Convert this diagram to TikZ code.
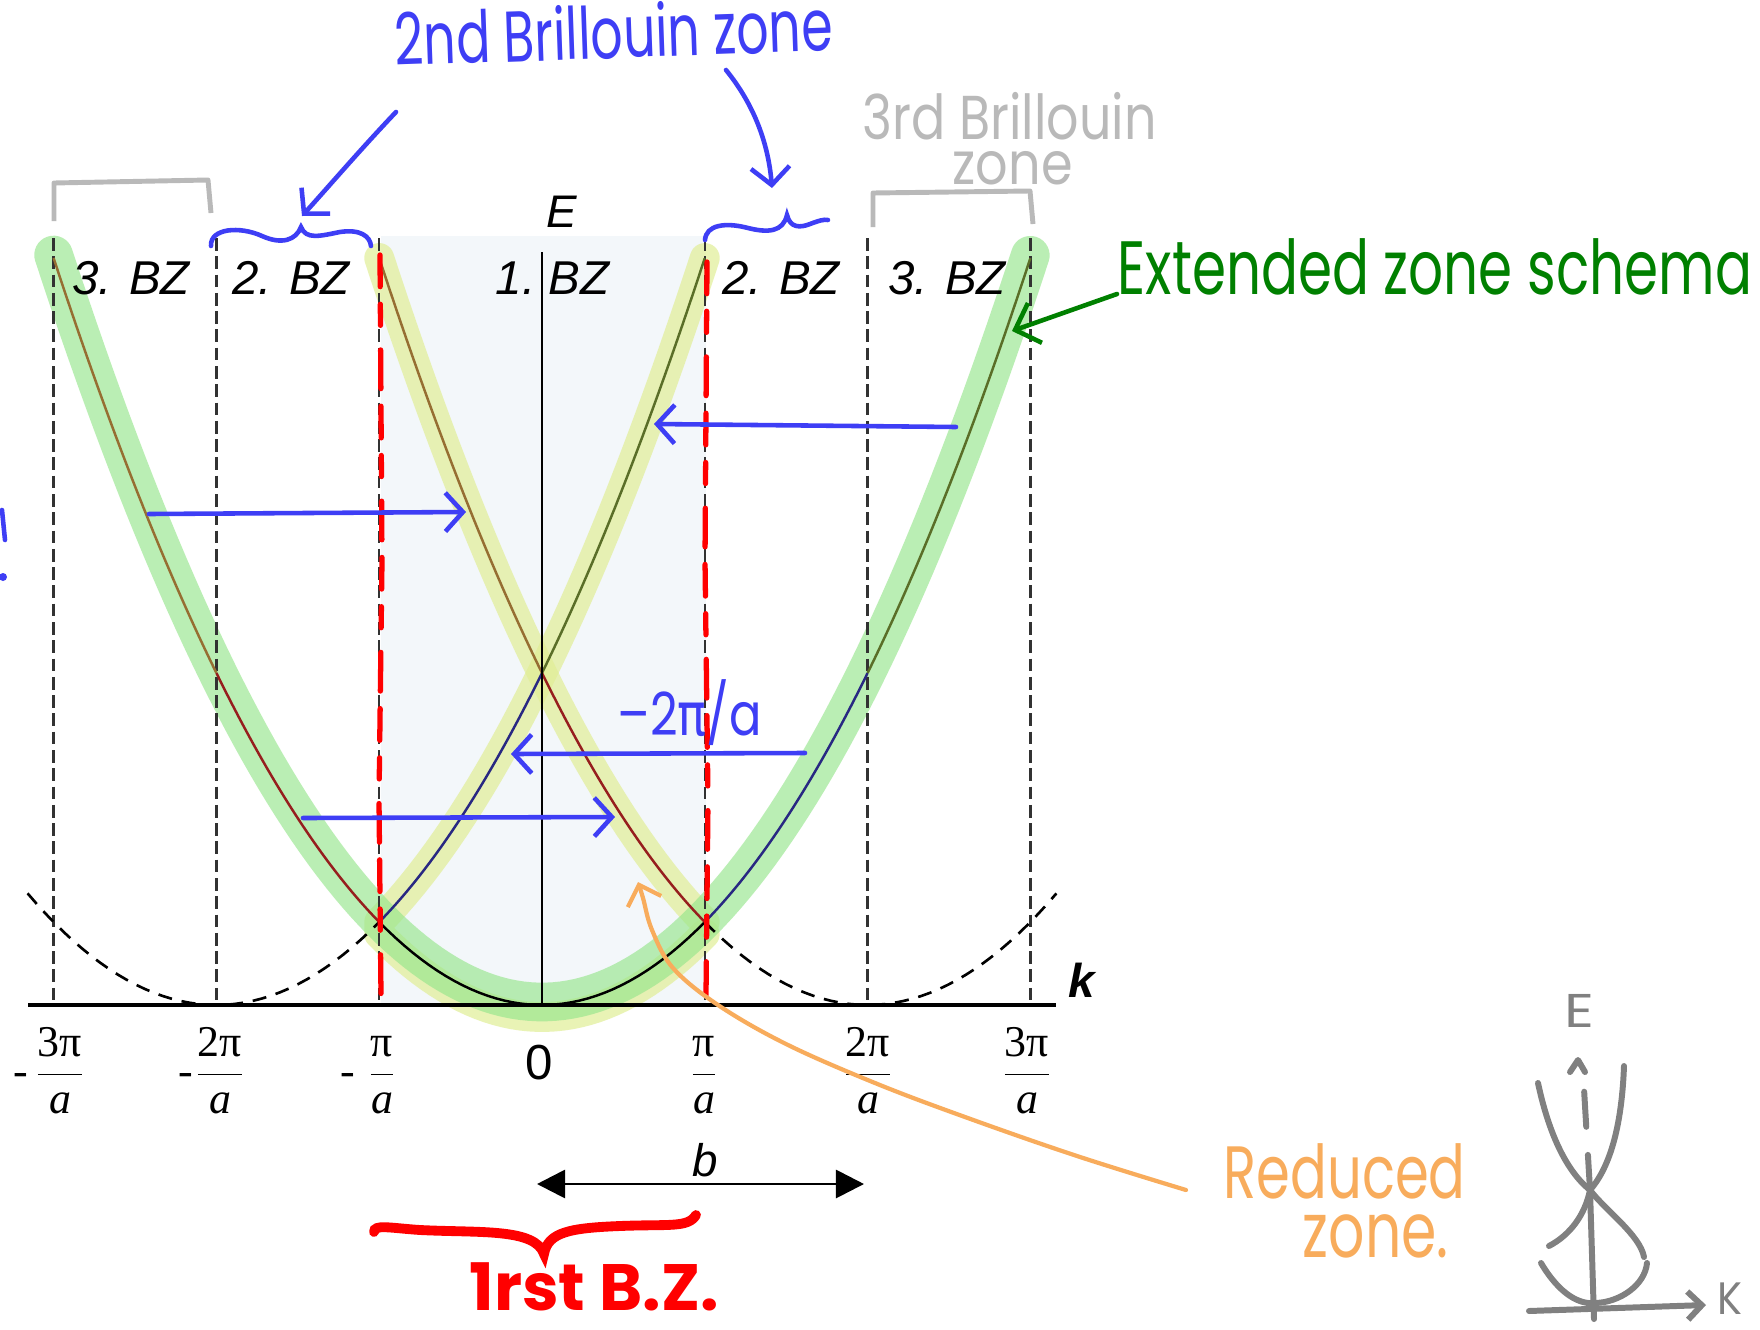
\documentclass[tikz,border=0pt]{standalone}
\usepackage{fontspec}
\setmainfont{Liberation Serif}
\newfontfamily\arialf{Liberation Sans}
\newfontfamily\handf{Poppins}
\newfontfamily\greekf{DejaVu Sans}
\usetikzlibrary{arrows.meta}
\definecolor{hblue}{RGB}{62,62,245}
\definecolor{hgreen}{RGB}{0,128,0}
\definecolor{hgray}{RGB}{185,185,185}
\definecolor{sgray}{RGB}{128,128,128}
\definecolor{horange}{RGB}{248,172,92}
\definecolor{hred}{RGB}{255,0,0}
\definecolor{bzbg}{RGB}{243,247,250}
\definecolor{bandgreen}{RGB}{150,230,140}
\definecolor{bandyellow}{RGB}{225,238,150}
\definecolor{cred}{RGB}{150,30,30}
\definecolor{cblue}{RGB}{40,40,130}
\definecolor{cbrown}{RGB}{150,110,50}
\definecolor{colive}{RGB}{90,110,40}
\definecolor{dashgray}{RGB}{50,50,50}
\newcommand\kfrac[1]{$\displaystyle\frac{\mbox{#1}}{\mbox{\itshape a}}$}
\tikzset{
  vdash/.style={dashgray, line width=0.7pt, dash pattern=on 3.6pt off 1.6pt},
  pdash/.style={black, line width=0.75pt, dash pattern=on 4pt off 2.8pt},
  curve/.style={line width=0.7pt},
  band/.style={line cap=round, line join=round},
  bzlabel/.style={font=\arialf\itshape\fontsize{13.5}{16}\selectfont, inner sep=0},
  ticklab/.style={font=\fontsize{12.5}{15}\selectfont, inner sep=0, anchor=base},
  harrow/.style={hblue, line width=1.3pt, line cap=round, -{Straight Barb[length=5pt,width=11pt]}},
  hwtext/.style={inner sep=0, anchor=base west},
  redline/.style={hred, line width=1.5pt, line cap=round, dash pattern=on 9pt off 5pt on 6pt off 7pt on 11pt off 5pt},
  sketch/.style={sgray, line width=1.7pt, line cap=round, line join=round},
}
\begin{document}
\begin{tikzpicture}[x=0.01cm,y=-0.01cm]
\useasboundingbox (0,0) rectangle (1760,1330);
\fill[white] (0,0) rectangle (1760,1330);
% first BZ background
\fill[bzbg] (381,236) rectangle (706,1005);
% highlight bands
\draw[band, bandyellow, opacity=0.7, line width=8.5pt]
  plot[domain=1:-1, samples=40] ({542+162.8*\x},{1005-83*(\x+2)*(\x+2)})
  -- plot[domain=-1:1, samples=40] ({542+162.8*\x},{1017-83*\x*\x});
\draw[band, bandyellow, opacity=0.7, line width=8.5pt]
  plot[domain=-1:1, samples=40] ({542+162.8*\x},{1005-83*(\x-2)*(\x-2)});
\draw[band, bandgreen, opacity=0.65, line width=11pt]
  plot[domain=-3:3, samples=120] ({542+162.8*\x},{1002-83*\x*\x});
% vertical dashed lines
\foreach \k in {-3,-2,-1,1,2,3} \draw[vdash] ({542+162.8*\k},238) -- ({542+162.8*\k},1005);
% dashed parabolas
\draw[pdash] plot[domain=-3.16:-1, samples=40] ({542+162.8*\x},{1005-83*(\x+2)*(\x+2)});
\draw[pdash] plot[domain=1:3.16, samples=40] ({542+162.8*\x},{1005-83*(\x-2)*(\x-2)});
% band structure curves
\draw[curve, black] plot[domain=-1:1, samples=40] ({542+162.8*\x},{1005-83*\x*\x});
\draw[curve, cred] plot[domain=-2:-1, samples=30] ({542+162.8*\x},{1005-83*\x*\x});
\draw[curve, cblue] plot[domain=1:2, samples=30] ({542+162.8*\x},{1005-83*\x*\x});
\draw[curve, cbrown] plot[domain=-3:-2, samples=30] ({542+162.8*\x},{1005-83*\x*\x});
\draw[curve, colive] plot[domain=2:3, samples=30] ({542+162.8*\x},{1005-83*\x*\x});
\draw[curve, cblue] plot[domain=-1:0, samples=30] ({542+162.8*\x},{1005-83*(\x+2)*(\x+2)});
\draw[curve, colive] plot[domain=0:1, samples=30] ({542+162.8*\x},{1005-83*(\x+2)*(\x+2)});
\draw[curve, cbrown] plot[domain=-1:0, samples=30] ({542+162.8*\x},{1005-83*(\x-2)*(\x-2)});
\draw[curve, cred] plot[domain=0:1, samples=30] ({542+162.8*\x},{1005-83*(\x-2)*(\x-2)});
% axes
\coordinate (axL) at (28,1005); \coordinate (axR) at (1056,1005);
\coordinate (eaxB) at (542,1005); \coordinate (eaxT) at (542,252);
\draw[line width=0.9pt] (axL) -- (axR);
\draw[line width=0.45pt] (eaxB) -- (eaxT);
% axis labels
\node[font=\arialf\itshape\fontsize{13}{15}\selectfont, inner sep=0] (lE) at (562,212) {E};
\node[font=\arialf\itshape\bfseries\fontsize{13.5}{15}\selectfont, inner sep=0] (lk) at (1082,980) {k};
\node[font=\arialf\fontsize{14}{16}\selectfont, inner sep=0] (l0) at (539,1063) {0};
% zone labels
\node[bzlabel] (z3l) at (131,278) {3. BZ};
\node[bzlabel] (z2l) at (291,278) {2. BZ};
\node[bzlabel, anchor=east] (z1a) at (536,278) {1.};
\node[bzlabel, anchor=west] (z1b) at (548,278) {BZ};
\node[bzlabel] (z2r) at (781,278) {2. BZ};
\node[bzlabel] (z3r) at (947,278) {3. BZ};
% tick labels
\node[ticklab] (m3) at (21,1085) {-};
\node[ticklab] (t3l) at (60,1085) {\kfrac{3π}};
\node[ticklab] (m2) at (186,1085) {-};
\node[ticklab] (t2l) at (220,1085) {\kfrac{2π}};
\node[ticklab] (m1) at (348,1085) {-};
\node[ticklab] (t1l) at (382,1085) {\kfrac{π}};
\node[ticklab] (t1r) at (704,1085) {\kfrac{π}};
\node[ticklab] (t2r) at (868,1085) {\kfrac{2π}};
\node[ticklab] (t3r) at (1027,1085) {\kfrac{3π}};
% b arrow
\node[font=\arialf\itshape\fontsize{13}{15}\selectfont, inner sep=0] (lb) at (705,1160) {b};
\coordinate (bL) at (537,1184); \coordinate (bR) at (864,1184);
\draw[line width=0.8pt, {Triangle[length=8pt,width=8pt]}-{Triangle[length=8pt,width=8pt]}] (bL) -- (bR);
% red dashed zone boundaries
\draw[redline] (380,255) -- (382,560) -- (379,800) -- (381,995);
\draw[redline] (707,262) -- (705,560) -- (708,800) -- (706,995);
% gray brackets (3rd BZ)
\draw[hgray, line width=1.4pt, line join=round] (54,221) -- (54,183) -- (208,180) -- (211,213);
\draw[hgray, line width=1.4pt, line join=round] (873,227) -- (873,193) -- (1030,191) -- (1033,224);
% blue braces (2nd BZ)
\draw[hblue, line width=1.3pt, line cap=round] (211,246) .. controls (210,228) and (240,226) .. (262,236) .. controls (282,245) and (296,240) .. (301,227) .. controls (306,240) and (320,236) .. (340,232) .. controls (360,229) and (370,236) .. (371,246);
\draw[hblue, line width=1.3pt, line cap=round] (705,240) .. controls (706,225) and (725,222) .. (748,228) .. controls (768,233) and (783,232) .. (787,215) .. controls (790,228) and (800,228) .. (810,224) .. controls (818,221) and (824,219) .. (828,220);
% handwritten labels
\node[hwtext, text=hblue, rotate=2] (t2bz) at (395,66) {\resizebox{124.6pt}{15.6pt}{\handf 2nd Brillouin zone}};
\coordinate (a1s) at (396,112); \coordinate (a1e) at (302,216);
\draw[harrow] (a1s) .. controls (360,150) and (330,185) .. (a1e);
\coordinate (a2s) at (726,70); \coordinate (a2e) at (772,188);
\draw[harrow] (a2s) .. controls (752,102) and (768,140) .. (a2e);
\node[hwtext, text=hgray] (t3bz) at (862,139) {\makebox[0pt][l]{\resizebox{83.6pt}{13.4pt}{\handf 3rd Brillouin}}\hspace{25.6pt}\raisebox{-12.8pt}{\resizebox{34.1pt}{9.4pt}{\handf zone}}};
\node[hwtext, text=hgreen] (text) at (1117,294) {\resizebox{180.4pt}{15.9pt}{\handf Extended zone schema}};
\coordinate (g1s) at (1117,294); \coordinate (g1e) at (1012,331);
\draw[hgreen, line width=1.3pt, line cap=round, -{Straight Barb[length=6pt,width=12pt]}] (g1s) -- (g1e);
% blue shift arrows
\coordinate (s1a) at (956,427); \coordinate (s1b) at (654,424);
\draw[harrow] (s1a) -- (s1b);
\coordinate (s2a) at (149,514); \coordinate (s2b) at (466,512);
\draw[harrow] (s2a) -- (s2b);
\coordinate (s3a) at (805,753); \coordinate (s3b) at (511,754);
\draw[harrow] (s3a) -- (s3b);
\coordinate (s4a) at (303,818); \coordinate (s4b) at (615,817);
\draw[harrow] (s4a) -- (s4b);
\node[hwtext, text=hblue] (tshift) at (617,735) {\resizebox{41pt}{15.9pt}{{\handf –2}{\greekf π}{\handf /a}}};
% left edge marks
\draw[hblue, line width=1.3pt, line cap=round] (2,510) -- (5,540);
\fill[hblue] (3,577) circle (4);
% reduced zone
\node[hwtext, text=horange] (tred) at (1223,1198) {\makebox[0pt][l]{\resizebox{68.8pt}{15.6pt}{\handf Reduced}}\hspace{22.5pt}\raisebox{-16.8pt}{\resizebox{41.5pt}{12.2pt}{\handf zone.}}};
\coordinate (o1s) at (1186,1190); \coordinate (o1e) at (638,882);
\draw[horange, line width=1.2pt, line cap=round, -{Straight Barb[length=5pt,width=10pt]}] plot[smooth, tension=0.6] coordinates {(o1s) (1077,1156) (965,1117) (875,1083) (786,1044) (718,1005) (673,968) (652,930) (643,898) (o1e)};
% first BZ brace
\draw[hred, line width=2.8pt, line cap=round] (374,1232) .. controls (374,1224) and (390,1228) .. (420,1230) .. controls (480,1233) and (535,1228) .. (544,1254) .. controls (548,1232) and (570,1228) .. (620,1226) .. controls (670,1224) and (688,1228) .. (696,1215);
\node[hwtext, text=hred] (t1bz) at (469,1310) {\resizebox{70.8pt}{13.6pt}{\handf\bfseries 1rst B.Z.}};
% small sketch
\coordinate (kaL) at (1529,1311); \coordinate (kaR) at (1706,1305);
\draw[sketch, -{Straight Barb[length=4pt,width=8pt]}] (kaL) -- (kaR);
\draw[sketch] (1594,1319) -- (1590,1190);
\draw[sketch, dash pattern=on 10pt off 8pt] (1590,1190) -- (1583,1072);
\draw[sketch] (1570,1072) -- (1578,1060) -- (1585,1072);
\draw[sketch] (1538,1083) .. controls (1548,1130) and (1565,1170) .. (1590,1190) .. controls (1585,1215) and (1570,1235) .. (1549,1246);
\draw[sketch] (1624,1066) .. controls (1622,1120) and (1612,1165) .. (1590,1190) .. controls (1605,1210) and (1640,1235) .. (1644,1257);
\draw[sketch] (1541,1263) .. controls (1560,1295) and (1580,1305) .. (1596,1303) .. controls (1620,1302) and (1645,1285) .. (1647,1263);
\node[hwtext, text=sgray] (sE) at (1564,1027) {\resizebox{8.5pt}{9.4pt}{\handf E}};
\node[hwtext, text=sgray] (sK) at (1717,1314) {\resizebox{7.1pt}{9pt}{\handf K}};
\end{tikzpicture}
\end{document}
